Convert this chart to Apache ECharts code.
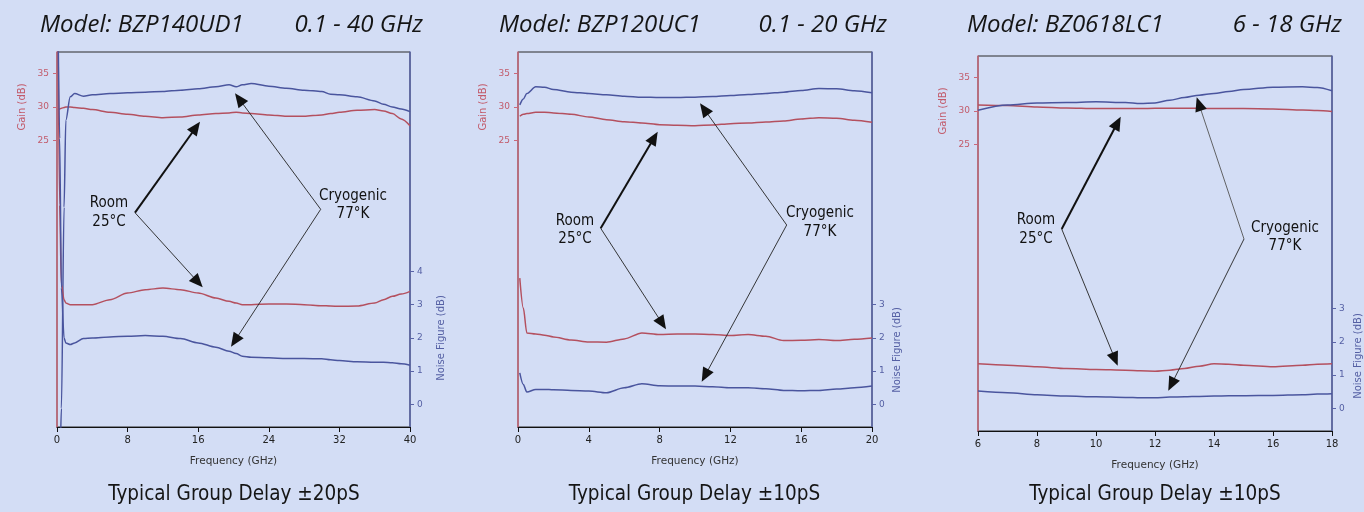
<!DOCTYPE html>
<html><head><meta charset="utf-8">
<script src="https://cdn.jsdelivr.net/npm/echarts@6/dist/echarts.min.js"></script>
<style>html,body{margin:0;padding:0;background:#d3ddf5;}#c{width:1364px;height:512px;}</style>
</head><body><div id="c"></div>
<script>
// ---------- text ----------
const modelNames = ['Model: BZP140UD1', 'Model: BZP120UC1', 'Model: BZ0618LC1'];
const bandNames = ['0.1 - 40 GHz', '0.1 - 20 GHz', '6 - 18 GHz'];
const delayNotes = ['Typical Group Delay \u00b120pS', 'Typical Group Delay \u00b110pS', 'Typical Group Delay \u00b110pS'];
const roomNote = 'Room\n25\u00b0C';
const cryoNote = 'Cryogenic\n77\u00b0K';

// ---------- tick labels ----------
const xTicks1 = [0, 8, 16, 24, 32, 40];
const xTicks2 = [0, 4, 8, 12, 16, 20];
const xTicks3 = [6, 8, 10, 12, 14, 16, 18];
const gainTicks = [25, 30, 35];
const nfTicks1 = [0, 1, 2, 3, 4];
const nfTicks2 = [0, 1, 2, 3];
const nfTicks3 = [0, 1, 2, 3];

// ---------- panel 1 : BZP140UD1 ----------
const freq1 = [0.1, 0.3, 0.5, 0.8, 1, 1.5, 2, 3, 4, 6, 8, 10, 12, 14, 16, 18, 19.5, 20.3, 21, 22, 24, 26, 28, 30, 31, 32, 34, 36, 37, 38, 39, 40];
const roomGain1 = [29.6, 29.7, 29.8, 29.9, 30.0, 30.0, 29.9, 29.8, 29.6, 29.2, 28.9, 28.6, 28.4, 28.5, 28.8, 29.0, 29.1, 29.2, 29.1, 29.0, 28.8, 28.6, 28.6, 28.8, 29.0, 29.2, 29.5, 29.6, 29.4, 29.0, 28.2, 27.2];
const cryoGain1 = [-30, -25, -15, 15, 28, 31.5, 32.0, 31.6, 31.8, 32.0, 32.1, 32.2, 32.3, 32.5, 32.7, 33.0, 33.3, 33.0, 33.3, 33.5, 33.1, 32.8, 32.5, 32.3, 31.9, 31.8, 31.5, 30.9, 30.4, 30.0, 29.7, 29.3];
const roomNF1 = [12, 6, 3.6, 3.15, 3.05, 3.0, 3.0, 3.0, 3.0, 3.15, 3.35, 3.45, 3.5, 3.45, 3.35, 3.2, 3.1, 3.05, 3.0, 3.0, 3.02, 3.02, 3.0, 2.97, 2.96, 2.95, 2.96, 3.05, 3.15, 3.25, 3.32, 3.4];
const cryoNF1 = [12, 8, 3.5, 2.0, 1.85, 1.8, 1.85, 1.98, 2.0, 2.03, 2.05, 2.07, 2.05, 1.98, 1.85, 1.72, 1.6, 1.53, 1.45, 1.42, 1.4, 1.38, 1.38, 1.37, 1.34, 1.32, 1.28, 1.27, 1.27, 1.25, 1.22, 1.18];

// ---------- panel 2 : BZP120UC1 ----------
const freq2 = [0.1, 0.3, 0.5, 1, 1.5, 2, 3, 4, 5, 6, 7, 8, 9, 10, 11, 12, 13, 14, 15, 16, 17, 18, 19, 20];
const roomGain2 = [28.6, 28.9, 29.0, 29.2, 29.2, 29.1, 28.9, 28.5, 28.1, 27.8, 27.6, 27.35, 27.25, 27.2, 27.3, 27.5, 27.6, 27.75, 27.9, 28.2, 28.4, 28.3, 28.0, 27.7];
const cryoGain2 = [30.3, 31.2, 32.0, 33.0, 32.95, 32.6, 32.2, 32.0, 31.8, 31.6, 31.45, 31.4, 31.4, 31.45, 31.55, 31.7, 31.85, 32.0, 32.2, 32.45, 32.75, 32.7, 32.4, 32.1];
const roomNF2 = [3.8, 2.9, 2.15, 2.12, 2.08, 2.03, 1.94, 1.88, 1.87, 1.97, 2.15, 2.1, 2.12, 2.12, 2.1, 2.07, 2.1, 2.05, 1.92, 1.93, 1.95, 1.92, 1.96, 2.0];
const cryoNF2 = [0.95, 0.6, 0.37, 0.45, 0.45, 0.44, 0.42, 0.4, 0.35, 0.5, 0.62, 0.56, 0.55, 0.55, 0.53, 0.5, 0.5, 0.47, 0.42, 0.41, 0.42, 0.46, 0.5, 0.55];

// ---------- panel 3 : BZ0618LC1 ----------
const freq3 = [6, 7, 8, 9, 10, 11, 11.5, 12, 12.5, 13, 13.5, 14, 14.5, 15, 16, 17, 17.5, 18];
const roomGain3 = [30.9, 30.8, 30.6, 30.45, 30.35, 30.35, 30.35, 30.4, 30.4, 30.4, 30.4, 30.35, 30.35, 30.35, 30.3, 30.15, 30.05, 29.9];
const cryoGain3 = [30.1, 30.9, 31.2, 31.25, 31.35, 31.25, 31.1, 31.2, 31.6, 32.0, 32.35, 32.6, 32.9, 33.2, 33.55, 33.6, 33.5, 33.0];
const roomNF3 = [1.34, 1.3, 1.25, 1.2, 1.17, 1.15, 1.13, 1.12, 1.15, 1.2, 1.27, 1.34, 1.33, 1.3, 1.25, 1.3, 1.33, 1.34];
const cryoNF3 = [0.52, 0.47, 0.41, 0.37, 0.35, 0.33, 0.32, 0.32, 0.34, 0.35, 0.36, 0.37, 0.38, 0.38, 0.39, 0.41, 0.43, 0.44];

// ---------- build ----------
const RED = '#b4505f', BLUE = '#4a559e', RED_AX = '#c8687a', BLUE_AX = '#5a64a8';
const panels = [
  {freq: freq1, rg: roomGain1, cg: cryoGain1, rn: roomNF1, cn: cryoNF1, xt: xTicks1, nt: nfTicks1,
   grid: {left: 57, top: 52, width: 353, height: 375}},
  {freq: freq2, rg: roomGain2, cg: cryoGain2, rn: roomNF2, cn: cryoNF2, xt: xTicks2, nt: nfTicks2,
   grid: {left: 518, top: 52, width: 354, height: 375}},
  {freq: freq3, rg: roomGain3, cg: cryoGain3, rn: roomNF3, cn: cryoNF3, xt: xTicks3, nt: nfTicks3,
   grid: {left: 978, top: 56, width: 354, height: 375}}
];
const zip = (xs, ys) => xs.map((x, i) => [x, ys[i]]);

const grid = [], xAxis = [], yAxis = [], series = [];
panels.forEach((p, i) => {
  grid.push(Object.assign({show: true, borderColor: '#2a2a2a', borderWidth: 1, backgroundColor: 'transparent'}, p.grid));
  xAxis.push({
    type: 'value', gridIndex: i, min: p.xt[0], max: p.xt[p.xt.length - 1], interval: p.xt[1] - p.xt[0],
    name: 'Frequency (GHz)', nameLocation: 'middle', nameGap: 29,
    nameTextStyle: {fontFamily: 'DejaVu Sans', fontSize: 10.5, color: '#333'},
    axisLine: {onZero: false, lineStyle: {color: '#111', width: 1}},
    axisTick: {length: 5, lineStyle: {color: '#111'}},
    axisLabel: {fontFamily: 'DejaVu Sans', fontSize: 10, color: '#222', margin: 8},
    splitLine: {show: false}
  });
  yAxis.push({
    type: 'value', gridIndex: i, position: 'left', min: -17.8, max: 38.2,
    axisLine: {show: true, onZero: false, lineStyle: {color: RED_AX, width: 1.5}},
    axisTick: {show: true, length: 4, customValues: gainTicks, lineStyle: {color: RED_AX}},
    axisLabel: {customValues: gainTicks, fontFamily: 'DejaVu Sans', fontSize: 9, color: '#c25a6a', margin: 8},
    splitLine: {show: false}
  });
  yAxis.push({
    type: 'value', gridIndex: i, position: 'right', min: -0.68, max: 10.6,
    axisLine: {show: true, onZero: false, lineStyle: {color: BLUE_AX, width: 1.5}},
    axisTick: {show: true, length: 4, customValues: p.nt, lineStyle: {color: BLUE_AX}},
    axisLabel: {customValues: p.nt, fontFamily: 'DejaVu Sans', fontSize: 9, color: '#5560a4', margin: 7},
    splitLine: {show: false}
  });
  const common = {type: 'line', xAxisIndex: i, showSymbol: false, smooth: 0.3, smoothMonotone: 'x', clip: true};
  series.push(Object.assign({name: 'Room Gain', yAxisIndex: 2 * i, data: zip(p.freq, p.rg), lineStyle: {color: RED, width: 1.5}}, common));
  series.push(Object.assign({name: 'Cryo Gain', yAxisIndex: 2 * i, data: zip(p.freq, p.cg), lineStyle: {color: BLUE, width: 1.5}}, common));
  series.push(Object.assign({name: 'Room NF', yAxisIndex: 2 * i + 1, data: zip(p.freq, p.rn), lineStyle: {color: RED, width: 1.5}}, common));
  series.push(Object.assign({name: 'Cryo NF', yAxisIndex: 2 * i + 1, data: zip(p.freq, p.cn), lineStyle: {color: BLUE, width: 1.5}}, common));
});

// ---------- annotations ----------
function arrow(x1, y1, x2, y2, w, col) {
  const dx = x2 - x1, dy = y2 - y1, L = Math.hypot(dx, dy), ux = dx / L, uy = dy / L;
  const hl = 14, hw = 6;
  const bx = x2 - ux * hl, by = y2 - uy * hl;
  return [
    {type: 'line', z: 100, shape: {x1: x1, y1: y1, x2: bx + ux * 2, y2: by + uy * 2}, style: {stroke: col, lineWidth: w}},
    {type: 'polygon', z: 100, shape: {points: [[x2, y2], [bx - uy * hw, by + ux * hw], [bx + uy * hw, by - ux * hw]]}, style: {fill: '#111'}}
  ];
}
function txt(x, y, s, font, fill, align, rot) {
  return {type: 'text', z: 100, x: x, y: y, rotation: rot || 0,
    style: {text: s, font: font, fill: fill, align: align || 'center', verticalAlign: 'middle', lineHeight: 18.5}};
}
const TF = 'italic 24px "Open Sans"';
const BF = '20.5px "DejaVu Sans Condensed"';
const NF = '15px "DejaVu Sans Condensed"';
const AF = '10px "DejaVu Sans"';
const graphic = [];
// titles
[[40, 423, 25], [499, 887, 25], [967, 1342, 25.5]].forEach((t, i) => {
  graphic.push(txt(t[0], t[2], modelNames[i], TF, '#151515', 'left'));
  graphic.push(txt(t[1], t[2], bandNames[i], TF, '#151515', 'right'));
});
// bottom notes
[234, 694.5, 1155].forEach((x, i) => graphic.push(txt(x, 495, delayNotes[i], BF, '#151515', 'center')));
// axis names
[[22, 107], [483, 107], [943, 111]].forEach(a => graphic.push(txt(a[0], a[1], 'Gain (dB)', AF, '#c25a6a', 'center', Math.PI / 2)));
[[441, 338], [897, 350], [1358, 356]].forEach(a => graphic.push(txt(a[0], a[1], 'Noise Figure (dB)', AF, '#5560a4', 'center', Math.PI / 2)));
// room / cryo labels and arrows
const ann = [
  {room: [109, 212.5], cryo: [353, 205],
   rA: [135, 212.7], rG: [200, 121.7], rN: [202.7, 287.3], cA: [320.7, 209.3], cG: [235, 93.3], cN: [231, 346.7]},
  {room: [575, 230], cryo: [820, 222.5],
   rA: [600.7, 228.3], rG: [657.7, 131.7], rN: [666, 329.3], cA: [786.7, 225], cG: [700, 103.3], cN: [701.7, 381.7]},
  {room: [1036, 229.5], cryo: [1285, 237],
   rA: [1061.7, 229], rG: [1120.7, 116.7], rN: [1117.7, 365.7], cA: [1244, 239], cG: [1196.7, 97.3], cN: [1168.3, 390.7]}
];
ann.forEach((a, i) => {
  graphic.push(txt(a.room[0], a.room[1], roomNote, NF, '#111', 'center'));
  graphic.push(txt(a.cryo[0], a.cryo[1], cryoNote, NF, '#111', 'center'));
  graphic.push(...arrow(a.rA[0], a.rA[1], a.rG[0], a.rG[1], 2, '#111'));
  graphic.push(...arrow(a.rA[0], a.rA[1], a.rN[0], a.rN[1], 0.9, '#222'));
  graphic.push(...arrow(a.cA[0], a.cA[1], a.cG[0], a.cG[1], 0.9, i === 2 ? '#555' : '#222'));
  graphic.push(...arrow(a.cA[0], a.cA[1], a.cN[0], a.cN[1], 0.9, '#222'));
});

const chart = echarts.init(document.getElementById('c'), null, {renderer: 'canvas'});
chart.setOption({
  backgroundColor: '#d3ddf5',
  animation: false,
  grid: grid, xAxis: xAxis, yAxis: yAxis, series: series, graphic: graphic
});
</script></body></html>
